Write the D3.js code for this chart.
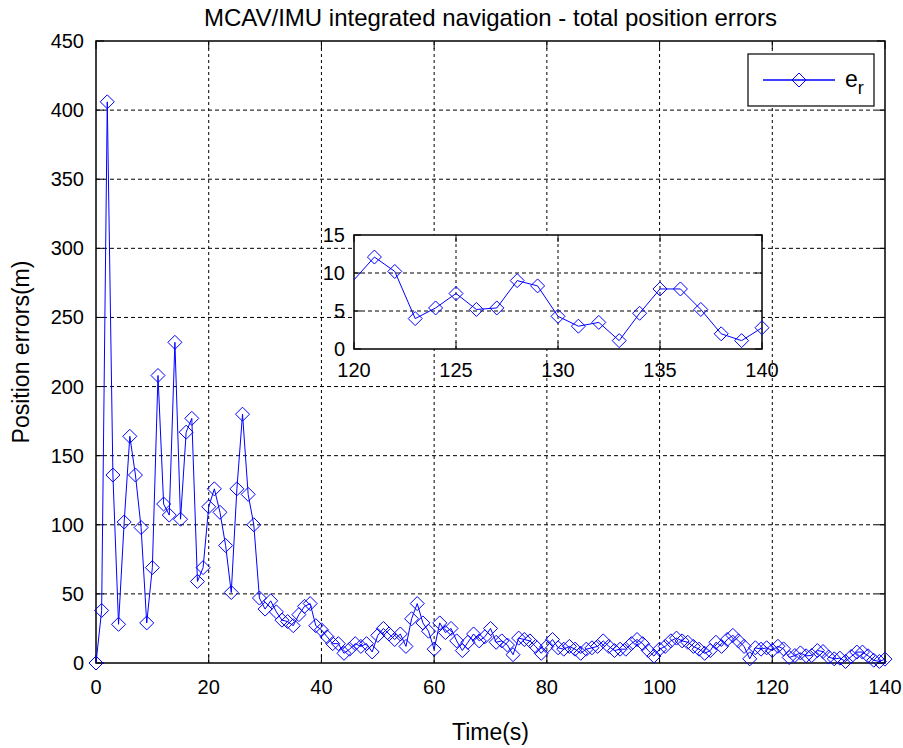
<!DOCTYPE html>
<html>
<head>
<meta charset="utf-8">
<script src="https://cdn.jsdelivr.net/npm/d3@7"></script>
<style>
  body { margin: 0; background: #fff; }
  svg { font-family: "Liberation Sans", Arial, sans-serif; }
</style>
</head>
<body>
<div id="chart"></div>
<script>
// 資料：時間 (s) 與總位置誤差 (m)
const times = d3.range(0, 141);
const errors = [
  0, 38, 406, 136, 28, 102, 164, 136, 98, 29,
  69, 208, 115, 107, 232, 104, 167, 177, 59, 69,
  113, 126, 109, 85, 51, 126, 180, 122, 100, 47,
  39, 45, 37, 31, 30, 27, 35, 41, 43, 27,
  24, 19, 14, 14, 7, 10, 14, 12, 14, 8,
  20, 25, 21, 17, 21, 12, 32, 43, 29, 23,
  10, 29, 22, 25, 16, 9, 15, 21, 16, 19,
  25, 15, 16, 13, 6, 18, 17, 16, 12, 7,
  12, 17, 11, 10, 12, 10, 7, 10, 11, 12,
  16, 12, 9, 10, 10, 14, 17, 14, 9, 5,
  10, 12, 16, 18, 16, 15, 12, 10, 7, 9,
  15, 12, 17, 20, 16, 12, 3, 11, 10, 11,
  9.1, 12.1, 10.2, 4.0, 5.4, 7.3, 5.2, 5.4, 9.0, 8.3,
  4.3, 3.0, 3.5, 1.1, 4.7, 7.9, 7.9, 5.2, 2.0, 1.1,
  2.8
];
const xTicks = [0, 20, 40, 60, 80, 100, 120, 140];
const yTicks = [0, 50, 100, 150, 200, 250, 300, 350, 400, 450];
const insetXTicks = [120, 125, 130, 135, 140];
const insetYTicks = [0, 5, 10, 15];

const data = times.map((t, i) => ({ t: t, v: errors[i] }));

const width = 903;
const height = 748;
const blue = "#0000ff";
const markerR = 7;

const svg = d3.select("#chart").append("svg")
  .attr("width", width).attr("height", height);

// 菱形標記
function diamond(r) {
  return `M0,${-r}L${r},0L0,${r}L${-r},0Z`;
}

function drawAxes(g, x, y, xt, yt, opts) {
  const [x0, x1] = x.range();
  const [y0, y1] = y.range();
  g.append("rect")
    .attr("x", x0).attr("y", y1)
    .attr("width", x1 - x0).attr("height", y0 - y1)
    .attr("fill", "#fff");

  // 格線
  g.append("g").selectAll("line").data(xt.slice(1, -1)).join("line")
    .attr("x1", d => x(d)).attr("x2", d => x(d))
    .attr("y1", y0).attr("y2", y1)
    .attr("stroke", "#000").attr("stroke-width", 1)
    .attr("stroke-dasharray", "3,3");
  g.append("g").selectAll("line").data(yt.slice(1, -1)).join("line")
    .attr("y1", d => y(d)).attr("y2", d => y(d))
    .attr("x1", x0).attr("x2", x1)
    .attr("stroke", "#000").attr("stroke-width", 1)
    .attr("stroke-dasharray", "4,3");

  // 刻度 (向內)
  const tl = opts.tick;
  xt.forEach(d => {
    g.append("line").attr("x1", x(d)).attr("x2", x(d)).attr("y1", y0).attr("y2", y0 - tl)
      .attr("stroke", "#000");
    g.append("line").attr("x1", x(d)).attr("x2", x(d)).attr("y1", y1).attr("y2", y1 + tl)
      .attr("stroke", "#000");
  });
  yt.forEach(d => {
    g.append("line").attr("y1", y(d)).attr("y2", y(d)).attr("x1", x0).attr("x2", x0 + tl)
      .attr("stroke", "#000");
    g.append("line").attr("y1", y(d)).attr("y2", y(d)).attr("x1", x1).attr("x2", x1 - tl)
      .attr("stroke", "#000");
  });

  g.append("rect")
    .attr("x", x0).attr("y", y1)
    .attr("width", x1 - x0).attr("height", y0 - y1)
    .attr("fill", "none").attr("stroke", "#000").attr("stroke-width", 1.5);

  // 刻度標籤
  g.append("g").selectAll("text").data(xt).join("text")
    .attr("x", d => x(d)).attr("y", y0 + opts.xLabelDy)
    .attr("text-anchor", "middle")
    .attr("font-size", opts.fontSize)
    .text(d => d);
  g.append("g").selectAll("text").data(yt).join("text")
    .attr("x", x0 - opts.yLabelDx).attr("y", d => y(d))
    .attr("dy", "0.35em")
    .attr("text-anchor", "end")
    .attr("font-size", opts.fontSize)
    .text(d => d);
}

// 主圖
const x = d3.scaleLinear().domain([0, 140]).range([96, 885]);
const y = d3.scaleLinear().domain([0, 450]).range([663, 41]);

const main = svg.append("g");
drawAxes(main, x, y, xTicks, yTicks, { tick: 8, fontSize: 20, xLabelDy: 31, yLabelDx: 12 });

const line = d3.line().x(d => x(d.t)).y(d => y(d.v));
main.append("path").datum(data)
  .attr("d", line).attr("fill", "none")
  .attr("stroke", blue).attr("stroke-width", 1);
main.append("g").selectAll("path").data(data).join("path")
  .attr("transform", d => `translate(${x(d.t)},${y(d.v)})`)
  .attr("d", diamond(markerR))
  .attr("fill", "none").attr("stroke", blue).attr("stroke-width", 1);

// 標題與軸標籤
svg.append("text").attr("x", (96 + 885) / 2).attr("y", 26)
  .attr("text-anchor", "middle").attr("font-size", 24)
  .text("MCAV/IMU integrated navigation - total position errors");
svg.append("text").attr("x", (96 + 885) / 2).attr("y", 740)
  .attr("text-anchor", "middle").attr("font-size", 23)
  .text("Time(s)");
svg.append("text")
  .attr("transform", `translate(29,${(41 + 663) / 2}) rotate(-90)`)
  .attr("text-anchor", "middle").attr("font-size", 23)
  .text("Position errors(m)");

// 圖例
const legend = svg.append("g");
legend.append("rect").attr("x", 748).attr("y", 54).attr("width", 126).attr("height", 52)
  .attr("fill", "#fff").attr("stroke", "#000").attr("stroke-width", 1.2);
legend.append("line").attr("x1", 763).attr("x2", 835).attr("y1", 80).attr("y2", 80)
  .attr("stroke", blue).attr("stroke-width", 1.3);
legend.append("path").attr("transform", "translate(799,80)").attr("d", diamond(markerR))
  .attr("fill", "none").attr("stroke", blue);
const lt = legend.append("text").attr("x", 845).attr("y", 87).attr("font-size", 23);
lt.append("tspan").text("e");
lt.append("tspan").attr("dy", 7).attr("font-size", 18).text("r");

// 放大圖 (120–140 s)
const xi = d3.scaleLinear().domain([120, 140]).range([354, 762]);
const yi = d3.scaleLinear().domain([0, 15]).range([349, 235]);
const inset = svg.append("g");
drawAxes(inset, xi, yi, insetXTicks, insetYTicks, { tick: 7, fontSize: 20, xLabelDy: 28, yLabelDx: 9 });

svg.append("clipPath").attr("id", "inset-clip").append("rect")
  .attr("x", 354).attr("y", 235).attr("width", 408).attr("height", 114);
const insetData = data.filter(d => d.t >= 119);
inset.append("path").datum(insetData)
  .attr("clip-path", "url(#inset-clip)")
  .attr("d", d3.line().x(d => xi(d.t)).y(d => yi(d.v)))
  .attr("fill", "none").attr("stroke", blue).attr("stroke-width", 1);
inset.append("g").selectAll("path").data(insetData.filter(d => d.t > 120)).join("path")
  .attr("transform", d => `translate(${xi(d.t)},${yi(d.v)})`)
  .attr("d", diamond(markerR))
  .attr("fill", "none").attr("stroke", blue).attr("stroke-width", 1);
</script>
</body>
</html>
